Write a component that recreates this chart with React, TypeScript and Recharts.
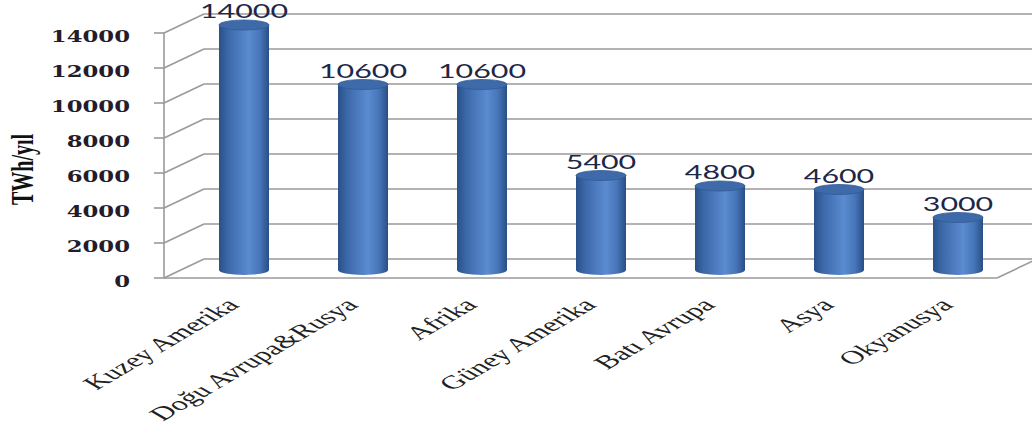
import React from "react";
import { BarChart, Bar, XAxis, YAxis, CartesianGrid, LabelList } from "recharts";

const regions = ["Kuzey Amerika", "Doğu Avrupa&Rusya", "Afrika", "Güney Amerika", "Batı Avrupa", "Asya", "Okyanusya"];
const potential = [14000, 10600, 10600, 5400, 4800, 4600, 3000];
const yTicks = [0, 2000, 4000, 6000, 8000, 10000, 12000, 14000];

const data = regions.map((name, i) => ({ name, value: potential[i] }));

// fake 3D depth: back wall is shifted right/up, bars sit halfway
const DX = 40;
const DY = -19;
const BAR_DX = 20;
const BAR_DY = -8;
const STRETCH = 1.6;
const GRID = "#9a9a9a";

function WallLine(props: any) {
  const { x1, y1, x2, y, height } = props;
  const isFloor = Math.abs(y1 - (y + height)) < 1;
  return (
    <g>
      <line x1={x1} y1={y1} x2={x1 + DX} y2={y1 + DY} stroke={GRID} strokeWidth={1.6} />
      <line x1={x1 + DX} y1={y1 + DY} x2={x2 + DX + 20} y2={y1 + DY} stroke={GRID} strokeWidth={1.6} />
      {isFloor && <line x1={x2} y1={y1} x2={x2 + DX} y2={y1 + DY} stroke={GRID} strokeWidth={1.6} />}
    </g>
  );
}

function Cylinder(props: any) {
  const { x, y, width, height, index } = props;
  if (!height) return null;
  const left = x + BAR_DX;
  const right = left + width;
  const cx = left + width / 2;
  const top = y + BAR_DY;
  const bottom = y + height + BAR_DY;
  const rx = width / 2;
  const ry = 5;
  const id = `cyl-${index}`;
  return (
    <g>
      <defs>
        <linearGradient id={id} x1="0" y1="0" x2="1" y2="0">
          <stop offset="0%" stopColor="#2a5088" />
          <stop offset="18%" stopColor="#3b68a9" />
          <stop offset="60%" stopColor="#5b8bd0" />
          <stop offset="82%" stopColor="#4675b8" />
          <stop offset="100%" stopColor="#294e86" />
        </linearGradient>
      </defs>
      <path
        d={`M${left},${top} L${left},${bottom} A${rx},${ry} 0 0 0 ${right},${bottom} L${right},${top} Z`}
        fill={`url(#${id})`}
      />
      <ellipse cx={cx} cy={top} rx={rx} ry={ry} fill="#3e6aa9" stroke="#2f5a96" strokeWidth={0.8} />
    </g>
  );
}

function ValueLabel(props: any) {
  const { x, y, width, value } = props;
  const cx = x + width / 2 + BAR_DX;
  const ty = y + BAR_DY - 7;
  return (
    <text
      transform={`translate(${cx},${ty}) scale(${STRETCH},1)`}
      textAnchor="middle"
      fontFamily="Lato, 'Liberation Sans', sans-serif"
      fontSize={19}
      fill="#1e2748"
    >
      {value}
    </text>
  );
}

function YTick(props: any) {
  const { x, y, payload } = props;
  return (
    <text
      transform={`translate(${x - 24},${y + 9}) scale(1.38,1)`}
      textAnchor="end"
      fontFamily="'DejaVu Serif', serif"
      fontWeight="bold"
      fontSize={16.5}
      fill="#241c2a"
    >
      {payload.value}
    </text>
  );
}

function XTick(props: any) {
  const { x, y, payload } = props;
  return (
    <text
      transform={`translate(${x + 17},${y + 28}) scale(1.7,1) rotate(-45)`}
      textAnchor="end"
      fontFamily="'Liberation Serif', serif"
      fontSize={19}
      fill="#222"
    >
      {payload.value}
    </text>
  );
}

function UnitLabel(props: any) {
  const { viewBox } = props;
  const cy = viewBox.y + viewBox.height / 2 + 14;
  return (
    <text
      transform={`translate(33,${cy}) scale(1.6,1) rotate(-90)`}
      textAnchor="middle"
      fontFamily="'Liberation Serif', serif"
      fontWeight="bold"
      fontSize={20}
      fill="#111"
    >
      TWh/yıl
    </text>
  );
}

export default function App() {
  return (
    <div style={{ position: "absolute", left: 0, top: 0, width: 1032, height: 430, background: "#fff" }}>
      <BarChart width={1032} height={430} data={data} margin={{ top: 33, right: 35, bottom: 2, left: 0 }}>
        <CartesianGrid vertical={false} horizontal={(p: any) => <WallLine {...p} />} />
        <XAxis
          dataKey="name"
          interval={0}
          height={150}
          tickSize={0}
          tickMargin={0}
          tick={<XTick />}
          axisLine={{ stroke: GRID, strokeWidth: 1.6 }}
          tickLine={false}
        />
        <YAxis
          width={164}
          domain={[0, 14000]}
          ticks={yTicks}
          tickSize={10}
          tickMargin={0}
          tick={<YTick />}
          axisLine={{ stroke: GRID, strokeWidth: 1.6 }}
          tickLine={{ stroke: GRID, strokeWidth: 1.6 }}
          label={<UnitLabel />}
        />
        <Bar dataKey="value" barSize={50} shape={<Cylinder />} isAnimationActive={false}>
          <LabelList dataKey="value" content={<ValueLabel />} />
        </Bar>
      </BarChart>
    </div>
  );
}
